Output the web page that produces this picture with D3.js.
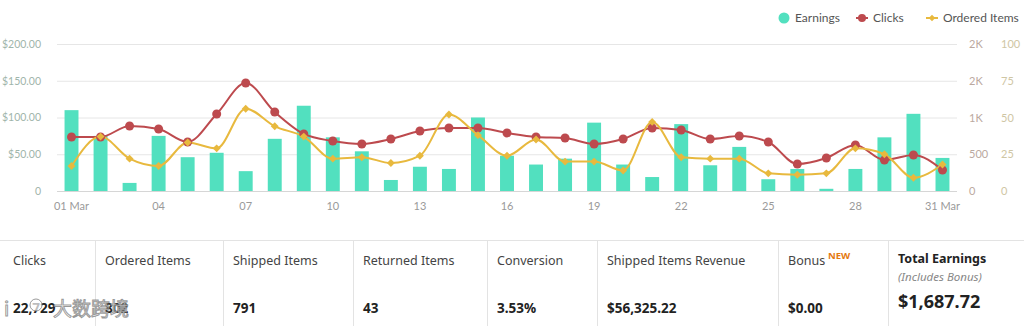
<!DOCTYPE html>
<html>
<head>
<meta charset="utf-8">
<script src="https://cdn.jsdelivr.net/npm/d3@7"></script>
<style>
  html, body { margin: 0; padding: 0; background: #fff; }
  svg { display: block; }
</style>
</head>
<body>
<svg id="chart" width="1024" height="326"></svg>
<script>
// Daily performance for March
const days = d3.range(1, 32);
const earnings = [110, 75, 11, 75, 46, 52, 27, 71, 116, 73, 54, 15, 33, 30, 100, 48, 36, 44, 93, 36, 19, 91, 35, 60, 16, 30, 3, 30, 73, 105, 45];
const clicks = [735, 735, 884, 844, 667, 1048, 1469, 1075, 776, 680, 640, 707, 816, 857, 857, 789, 735, 721, 640, 707, 857, 830, 707, 748, 667, 367, 449, 626, 422, 490, 286];
const orderedItems = [17, 37, 22, 17, 33, 29, 56, 44, 37, 22, 23, 19, 24, 52, 38, 24, 35, 20, 20, 14, 47, 23, 22, 22, 12, 11, 12, 29, 25, 9, 18];

const earningsTicks = [0, 50, 100, 150, 200];
const clicksTicks = [0, 500, 1000, 1500, 2000];
const clicksTickLabels = ["0", "500", "1K", "2K", "2K"];
const itemsTicks = [0, 25, 50, 75, 100];
const xTickDays = [1, 4, 7, 10, 13, 16, 19, 22, 25, 28, 31];
const xTickLabels = ["01 Mar", "04", "07", "10", "13", "16", "19", "22", "25", "28", "31 Mar"];

const legendItems = ["Earnings", "Clicks", "Ordered Items"];

const summaryLabels = ["Clicks", "Ordered Items", "Shipped Items", "Returned Items", "Conversion", "Shipped Items Revenue", "Bonus", "Total Earnings"];
const summaryValues = ["22,729", "802", "791", "43", "3.53%", "$56,325.22", "$0.00", "$1,687.72"];
const summaryEdges = [0, 95, 223, 353, 487, 597, 778, 888, 1024];

const colors = { earnings: "#52e0bf", clicks: "#bd4a4e", items: "#e8b93e" };

const svg = d3.select("#chart");
const font = "Lato, 'Open Sans', sans-serif";

const plot = { left: 57, right: 957, top: 44, bottom: 191 };

const x = d3.scaleBand().domain(days).range([plot.left, plot.right]).paddingInner(0.52).paddingOuter(0.26);
const cx = d => x(d) + x.bandwidth() / 2;
const yE = d3.scaleLinear().domain([0, 200]).range([plot.bottom, plot.top]);
const yC = d3.scaleLinear().domain([0, 2000]).range([plot.bottom, plot.top]);
const yI = d3.scaleLinear().domain([0, 100]).range([plot.bottom, plot.top]);

// grid lines
svg.append("g").selectAll("line").data(earningsTicks).join("line")
  .attr("x1", plot.left).attr("x2", plot.right)
  .attr("y1", d => yE(d) + 0.5).attr("y2", d => yE(d) + 0.5)
  .attr("stroke", d => d === 0 ? "#d6d6d6" : "#e6e6e6").attr("stroke-width", 1);

// left axis (earnings)
const leftAxis = svg.append("g").attr("transform", `translate(${plot.left - 13},0)`)
  .call(d3.axisLeft(yE).tickValues(earningsTicks).tickSize(0)
    .tickFormat(d => d === 0 ? "0" : "$" + d3.format(".2f")(d)));
leftAxis.select(".domain").remove();
leftAxis.selectAll("text").attr("fill", "#9fb5ab").attr("font-family", font).attr("font-size", 10.5);

// right axes (clicks, ordered items)
const rightAxisC = svg.append("g").attr("transform", `translate(966,0)`)
  .call(d3.axisRight(yC).tickValues(clicksTicks).tickSize(0)
    .tickFormat((d, i) => clicksTickLabels[i]));
rightAxisC.select(".domain").remove();
rightAxisC.selectAll("text").attr("fill", "#bba99f").attr("font-family", font).attr("font-size", 11);

const rightAxisI = svg.append("g").attr("transform", `translate(998,0)`)
  .call(d3.axisRight(yI).tickValues(itemsTicks).tickSize(0));
rightAxisI.select(".domain").remove();
rightAxisI.selectAll("text").attr("fill", "#cfc6a4").attr("font-family", font).attr("font-size", 11);

// bottom axis
const bottomAxis = svg.append("g").attr("transform", `translate(0,${plot.bottom + 8})`)
  .call(d3.axisBottom(x).tickValues(xTickDays).tickSize(0)
    .tickFormat(d => xTickLabels[xTickDays.indexOf(d)]));
bottomAxis.select(".domain").remove();
bottomAxis.selectAll("text").attr("fill", "#9a9a9a").attr("font-family", font).attr("font-size", 11);

// earnings bars
svg.append("g").selectAll("rect").data(earnings).join("rect")
  .attr("x", (d, i) => x(days[i]))
  .attr("width", x.bandwidth())
  .attr("y", d => yE(d))
  .attr("height", d => plot.bottom - yE(d))
  .attr("fill", colors.earnings);

// clicks line
const lineC = d3.line().x((d, i) => cx(days[i])).y(d => yC(d)).curve(d3.curveMonotoneX);
svg.append("path").datum(clicks).attr("d", lineC)
  .attr("fill", "none").attr("stroke", colors.clicks).attr("stroke-width", 2);

// ordered items line
const lineI = d3.line().x((d, i) => cx(days[i])).y(d => yI(d)).curve(d3.curveMonotoneX);
svg.append("path").datum(orderedItems).attr("d", lineI)
  .attr("fill", "none").attr("stroke", colors.items).attr("stroke-width", 2);

// clicks markers
svg.append("g").selectAll("circle").data(clicks).join("circle")
  .attr("cx", (d, i) => cx(days[i])).attr("cy", d => yC(d)).attr("r", 4.5)
  .attr("fill", colors.clicks);

// ordered items markers (diamonds)
const diamond = d3.symbol().type(d3.symbolDiamond2).size(40);
svg.append("g").selectAll("path").data(orderedItems).join("path")
  .attr("d", diamond)
  .attr("transform", (d, i) => `translate(${cx(days[i])},${yI(d)})`)
  .attr("fill", colors.items);

// legend
const legend = svg.append("g").attr("font-family", font).attr("font-size", 12).attr("fill", "#555");
const legendPos = [784, 862, 932];
legend.append("circle").attr("cx", legendPos[0]).attr("cy", 18).attr("r", 5.5).attr("fill", colors.earnings);
legend.append("line").attr("x1", legendPos[1] - 6).attr("x2", legendPos[1] + 6).attr("y1", 18).attr("y2", 18)
  .attr("stroke", colors.clicks).attr("stroke-width", 2);
legend.append("circle").attr("cx", legendPos[1]).attr("cy", 18).attr("r", 4).attr("fill", colors.clicks);
legend.append("line").attr("x1", legendPos[2] - 6).attr("x2", legendPos[2] + 6).attr("y1", 18).attr("y2", 18)
  .attr("stroke", colors.items).attr("stroke-width", 2);
legend.append("path").attr("d", d3.symbol().type(d3.symbolDiamond2).size(28))
  .attr("transform", `translate(${legendPos[2]},18)`).attr("fill", colors.items);
legend.selectAll("text").data(legendItems).join("text")
  .attr("x", (d, i) => legendPos[i] + 11).attr("y", 22).text(d => d);

// summary table
const table = svg.append("g").attr("font-family", "'Noto Sans', 'Open Sans', sans-serif");
table.append("line").attr("x1", 0).attr("x2", 1024).attr("y1", 240.5).attr("y2", 240.5).attr("stroke", "#e3e3e3");
table.selectAll("line.sep").data(summaryEdges.slice(1, -1)).join("line").attr("class", "sep")
  .attr("x1", d => d + 0.5).attr("x2", d => d + 0.5).attr("y1", 241).attr("y2", 326)
  .attr("stroke", "#e3e3e3");

summaryLabels.forEach((label, i) => {
  const x0 = summaryEdges[i] + (i === 0 ? 13 : 10);
  const last = i === summaryLabels.length - 1;
  table.append("text").attr("x", x0).attr("y", last ? 263 : 265)
    .attr("font-size", 12.5).attr("fill", last ? "#222" : "#444")
    .attr("font-weight", last ? 700 : 400).text(label);
  table.append("text").attr("x", x0).attr("y", last ? 308 : 313)
    .attr("font-size", last ? 18 : 13.5).attr("font-weight", 700).attr("fill", "#222")
    .text(summaryValues[i]);
});
table.append("text").attr("x", 828).attr("y", 259).attr("font-size", 9.5)
  .attr("font-weight", 700).attr("fill", "#e47911").text("NEW");
table.append("text").attr("x", 898).attr("y", 281).attr("font-size", 11.5)
  .attr("font-style", "italic").attr("fill", "#888").text("(Includes Bonus)");

// watermark
const wm = svg.append("g").attr("font-family", "'Noto Sans CJK SC', sans-serif").attr("font-size", 19)
  .attr("fill", "rgba(255,255,255,0.85)").attr("stroke", "rgba(120,120,120,0.75)").attr("stroke-width", 1);
wm.append("text").attr("x", 4).attr("y", 316).text("i");
wm.append("circle").attr("cx", 36).attr("cy", 305).attr("r", 6).attr("fill", "rgba(255,255,255,0.7)");
wm.append("text").attr("x", 53).attr("y", 316).text("大数跨境");
</script>
</body>
</html>
